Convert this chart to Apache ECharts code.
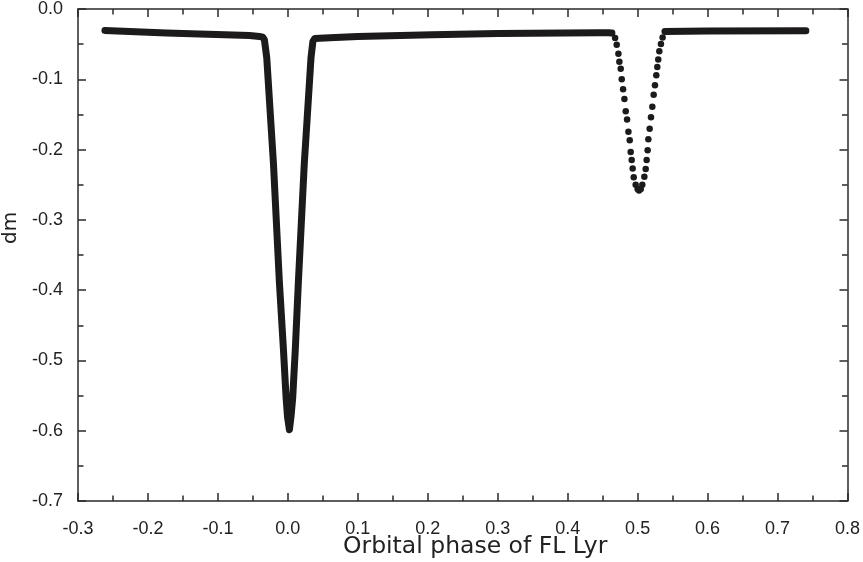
<!DOCTYPE html>
<html><head><meta charset="utf-8">
<script src="https://cdn.jsdelivr.net/npm/echarts@6/dist/echarts.min.js"></script>
<style>html,body{margin:0;padding:0;background:#fff}#c{width:863px;height:562px}</style>
</head><body><div id="c"></div><script>
// Light curve of FL Lyr: [orbital phase, dm]
const baselineAndPrimary = [
  [-0.2615,-0.0306],[-0.1736,-0.0343],[-0.0549,-0.0376],[-0.0406,-0.0390],[-0.0360,-0.0400],[-0.0335,-0.0440],
  [-0.0302,-0.0690],[-0.0206,-0.2197],[-0.0121,-0.3890],[-0.0064,-0.4830],[-0.0025,-0.5535],
  [-0.0005,-0.5800],[0.0022,-0.5986],[0.0045,-0.5800],
  [0.0069,-0.5535],[0.0107,-0.4830],[0.0150,-0.3890],[0.0235,-0.2197],[0.0331,-0.0690],[0.0358,-0.0460],
  [0.0385,-0.0420],[0.0600,-0.0410],[0.1000,-0.0390],[0.2060,-0.0366],[0.3000,-0.0350],
  [0.4440,-0.0338],[0.4580,-0.0338],[0.4632,-0.0343]
];
const secondaryDots = [
  [0.4678,-0.0413],[0.4701,-0.0507],[0.4725,-0.0638],[0.4739,-0.0751],[0.4758,-0.0850],
  [0.4773,-0.1000],[0.4792,-0.1140],[0.4811,-0.1280],[0.4830,-0.1455],[0.4849,-0.1573],
  [0.4868,-0.1746],[0.4887,-0.1869],[0.4901,-0.2033],[0.4915,-0.2150],[0.4929,-0.2268],
  [0.4944,-0.2394],[0.4972,-0.2502],[0.5000,-0.2560],[0.5020,-0.2582],[0.5045,-0.2560],
  [0.5067,-0.2502],[0.5096,-0.2385],[0.5115,-0.2277],[0.5129,-0.2150],[0.5143,-0.2010],
  [0.5153,-0.1854],[0.5172,-0.1704],[0.5191,-0.1540],[0.5210,-0.1390],[0.5229,-0.1220],
  [0.5248,-0.1085],[0.5267,-0.0944],[0.5281,-0.0826],[0.5295,-0.0718],[0.5310,-0.0601],
  [0.5333,-0.0498],[0.5357,-0.0404]
];
const postSecondary = [
  [0.5390,-0.0319],[0.6000,-0.0312],[0.7405,-0.0310]
];
const xLabelTitle = 'Orbital phase of FL Lyr';
const yLabelTitle = 'dm';

const ink = '#1c1a1b';
const axisCol = '#2a2a2a';
const fmt = v => Number(v).toFixed(1);

function mkAxis(min, max, pos, labels, margin) {
  return {
    type: 'value', min: min, max: max, interval: 0.1, position: pos,
    axisLine: { show: true, onZero: false, lineStyle: { color: axisCol, width: 1.5 } },
    axisTick: { show: true, inside: true, length: 8, lineStyle: { color: axisCol, width: 1.5 } },
    minorTick: { show: true, splitNumber: 2, length: 5.5, lineStyle: { color: axisCol, width: 1.5 } },
    splitLine: { show: false },
    minorSplitLine: { show: false },
    axisLabel: labels ? { show: true, formatter: fmt, margin: margin, color: '#222', fontSize: 18,
      fontFamily: 'Liberation Sans', padding: pos === 'left' ? [10,0,0,0] : 0 } : { show: false }
  };
}

const chart = echarts.init(document.getElementById('c'), null, { renderer: 'canvas' });
chart.setOption({
  animation: false,
  backgroundColor: '#fff',
  grid: { left: 78, right: 13, top: 4, bottom: 61, containLabel: false },
  xAxis: [ mkAxis(-0.3, 0.8, 'bottom', true, 19), mkAxis(-0.3, 0.8, 'top', false, 0) ],
  yAxis: [ mkAxis(-0.7, 0, 'left', true, 15), mkAxis(-0.7, 0, 'right', false, 0) ],
  graphic: [
    { type: 'text', left: 343, top: 535, style: { text: xLabelTitle, fontSize: 23.5, fontFamily: 'DejaVu Sans', fill: '#222' } },
    { type: 'text', x: 1, y: 244, rotation: Math.PI / 2,
      style: { text: yLabelTitle, fontSize: 20, fontFamily: 'DejaVu Sans', fill: '#222' } }
  ],
  series: [
    { type: 'line', xAxisIndex: 0, yAxisIndex: 0, data: baselineAndPrimary, showSymbol: false, symbol: 'none',
      lineStyle: { color: ink, width: 7, cap: 'round', join: 'round' } },
    { type: 'scatter', xAxisIndex: 0, yAxisIndex: 0, data: secondaryDots, symbolSize: 6.5,
      itemStyle: { color: ink, opacity: 1 } },
    { type: 'line', xAxisIndex: 0, yAxisIndex: 0, data: postSecondary, showSymbol: false, symbol: 'none',
      lineStyle: { color: ink, width: 7, cap: 'round', join: 'round' } }
  ]
});
</script></body></html>
